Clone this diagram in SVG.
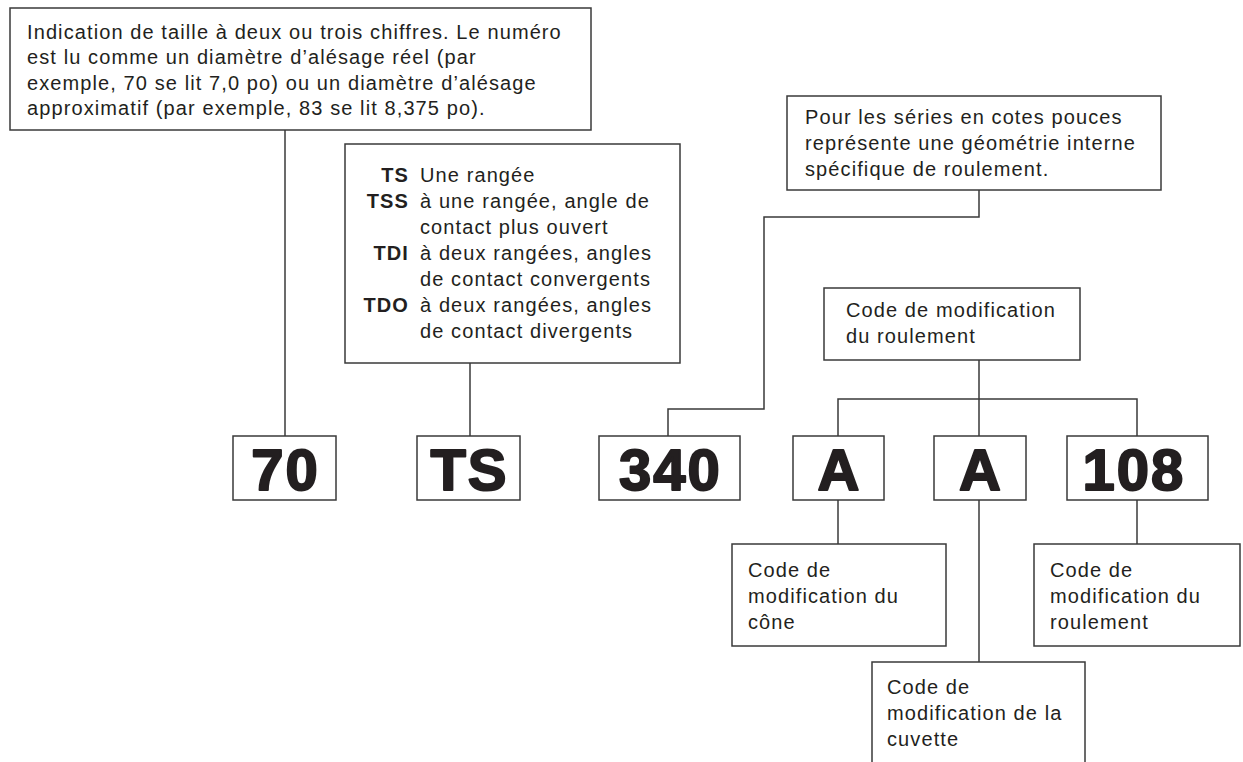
<svg xmlns="http://www.w3.org/2000/svg" width="1243" height="762" viewBox="0 0 1243 762">
<style>
.box{fill:#fff;stroke:#3a3a3a;stroke-width:1.5}
.t{font-family:"Liberation Sans",Arial,sans-serif;font-size:20px;letter-spacing:1.1px;fill:#231f20}
.b{font-weight:bold}
.big{font-family:"Liberation Sans",Arial,sans-serif;font-size:58px;font-weight:bold;letter-spacing:2px;fill:#231f20;stroke:#231f20;stroke-width:2;stroke-linejoin:round;text-anchor:middle}
.c{fill:none;stroke:#3a3a3a;stroke-width:1.5}
</style>
<rect width="1243" height="762" fill="#fff"/>
<g id="connectors">
<path class="c" d="M285 130V436"/>
<path class="c" d="M470 363V436"/>
<path class="c" d="M979 190V217H764V409H668V436"/>
<path class="c" d="M979 360V399M838 436V399H1137V436M979 399V436"/>
<path class="c" d="M838 500V544"/>
<path class="c" d="M979 500V662"/>
<path class="c" d="M1137 500V544"/>
</g>
<g id="note-size">
<rect class="box" x="10" y="8" width="581" height="122"/>
<text class="t" x="27" y="38.5">Indication de taille à deux ou trois chiffres. Le numéro</text>
<text class="t" x="27" y="64">est lu comme un diamètre d’alésage réel (par</text>
<text class="t" x="27" y="89.5">exemple, 70 se lit 7,0 po) ou un diamètre d’alésage</text>
<text class="t" x="27" y="115">approximatif (par exemple, 83 se lit 8,375 po).</text>
</g>
<g id="note-type">
<rect class="box" x="345" y="144" width="335" height="219"/>
<g class="t b" text-anchor="end">
<text x="409" y="182">TS</text>
<text x="409" y="208">TSS</text>
<text x="409" y="260">TDI</text>
<text x="409" y="312">TDO</text>
</g>
<g class="t">
<text x="420" y="182">Une rangée</text>
<text x="420" y="208">à une rangée, angle de</text>
<text x="420" y="234">contact plus ouvert</text>
<text x="420" y="260">à deux rangées, angles</text>
<text x="420" y="286">de contact convergents</text>
<text x="420" y="312">à deux rangées, angles</text>
<text x="420" y="338">de contact divergents</text>
</g>
</g>
<g id="note-series">
<rect class="box" x="787" y="96" width="374" height="94"/>
<text class="t" x="805" y="124">Pour les séries en cotes pouces</text>
<text class="t" x="805" y="150">représente une géométrie interne</text>
<text class="t" x="805" y="176">spécifique de roulement.</text>
</g>
<g id="note-modif">
<rect class="box" x="824" y="288" width="256" height="72"/>
<text class="t" x="846" y="317">Code de modification</text>
<text class="t" x="846" y="343">du roulement</text>
</g>
<g id="code-70"><rect class="box" x="233" y="436" width="103" height="64"/><text class="big" x="285.5" y="490">70</text></g>
<g id="code-ts"><rect class="box" x="417" y="436" width="103" height="64"/><text class="big" x="469.5" y="490">TS</text></g>
<g id="code-340"><rect class="box" x="599" y="436" width="141" height="64"/><text class="big" x="670.5" y="490">340</text></g>
<g id="code-a1"><rect class="box" x="793" y="436" width="91" height="64"/><text class="big" x="839.5" y="490">A</text></g>
<g id="code-a2"><rect class="box" x="934" y="436" width="92" height="64"/><text class="big" x="981" y="490">A</text></g>
<g id="code-108"><rect class="box" x="1067" y="436" width="141" height="64"/><text class="big" x="1134" y="490">108</text></g>
<g id="note-cone">
<rect class="box" x="732" y="544" width="214" height="102"/>
<text class="t" x="748" y="577">Code de</text>
<text class="t" x="748" y="603">modification du</text>
<text class="t" x="748" y="629">cône</text>
</g>
<g id="note-cuvette">
<rect class="box" x="872" y="662" width="213" height="120"/>
<text class="t" x="887" y="694">Code de</text>
<text class="t" x="887" y="720">modification de la</text>
<text class="t" x="887" y="746">cuvette</text>
</g>
<g id="note-roulement">
<rect class="box" x="1034" y="544" width="206" height="102"/>
<text class="t" x="1050" y="577">Code de</text>
<text class="t" x="1050" y="603">modification du</text>
<text class="t" x="1050" y="629">roulement</text>
</g>
</svg>
